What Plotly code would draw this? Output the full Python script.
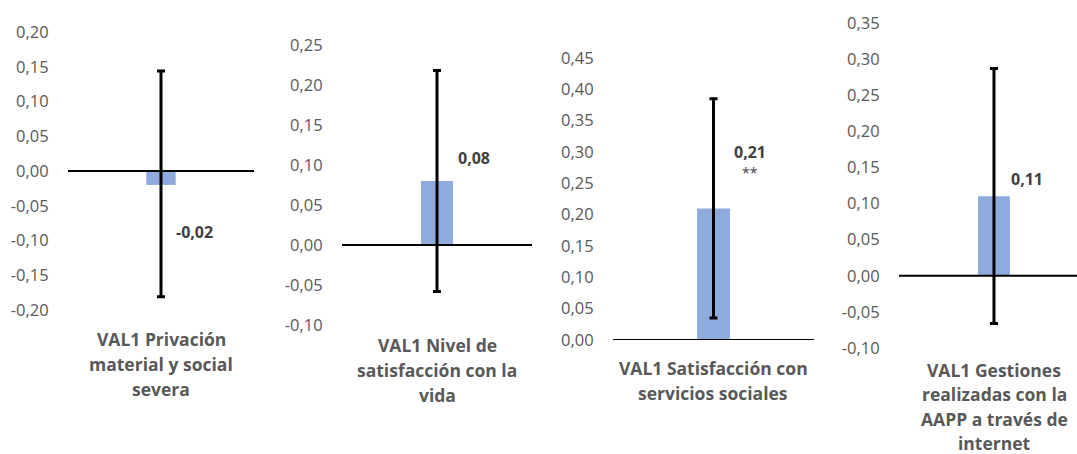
import plotly.graph_objects as go

# ---- data ----
categories = [
    "VAL1 Privación<br>material y social<br>severa",
    "VAL1 Nivel de<br>satisfacción con la<br>vida",
    "VAL1 Satisfacción con<br>servicios sociales",
    "VAL1 Gestiones<br>realizadas con la<br>AAPP a través de<br>internet",
]
values = [-0.02, 0.08, 0.21, 0.11]
err_plus = [0.164, 0.138, 0.175, 0.177]
err_minus = [0.161, 0.138, 0.175, 0.176]
value_labels = ["-0,02", "0,08", "0,21", "0,11"]
significance = ["", "", "**", ""]
ticks_1 = [-0.20, -0.15, -0.10, -0.05, 0.00, 0.05, 0.10, 0.15, 0.20]
ticks_2 = [-0.10, -0.05, 0.00, 0.05, 0.10, 0.15, 0.20, 0.25]
ticks_3 = [0.00, 0.05, 0.10, 0.15, 0.20, 0.25, 0.30, 0.35, 0.40, 0.45]
ticks_4 = [-0.10, -0.05, 0.00, 0.05, 0.10, 0.15, 0.20, 0.25, 0.30, 0.35]
tick_sets = [ticks_1, ticks_2, ticks_3, ticks_4]

# ---- layout helpers ----
W, H = 1077, 454


def px(x):
    return x / W


def py(y):
    return 1 - y / H


def fmt(v):
    s = f"{abs(v):.2f}".replace(".", ",")
    return ("-" if v < -1e-9 else "") + s


# panel geometry (pixels)
panels = [
    dict(xd=(68, 254), yd=(32, 310), xr=(-0.5, 0.5), lab=(194, 232), star=None, cat_y=339, gap=25.0, cx=161, bw=0.158),
    dict(xd=(342, 532), yd=(45, 325), xr=(-0.5, 0.5), lab=(474, 158), star=None, cat_y=345, gap=25.0, cx=437, bw=0.168),
    dict(xd=(613, 814), yd=(58, 340), xr=(-0.5, 0.5), lab=(750, 152), star=(750, 172), cat_y=368, gap=25.0, cx=713, bw=0.164),
    dict(xd=(899, 1077), yd=(23, 348), xr=(-0.5, 0.437), lab=(1027, 179), star=None, cat_y=370, gap=24.3, cx=994, bw=0.168),
]

BAR = "#8FAADC"
GRAY = "#595959"
DARK = "#404040"
TICKFONT = dict(family="Open Sans", size=16.5, color=GRAY)
CATFONT = dict(family="Open Sans", size=17.5, color=GRAY, weight="bold")
VALFONT = dict(family="Open Sans", size=16, color=DARK, weight="bold")

fig = go.Figure()
annotations = []
shapes = []
layout = {}

for i, (cat, v, ep, em, t, p) in enumerate(
    zip(categories, values, err_plus, err_minus, tick_sets, panels)
):
    n = "" if i == 0 else str(i + 1)
    fig.add_trace(
        go.Bar(
            x=[cat],
            y=[v],
            width=p["bw"],
            marker=dict(color=BAR, line=dict(width=0)),
            error_y=dict(
                type="data",
                symmetric=False,
                array=[ep],
                arrayminus=[em],
                color="black",
                thickness=3,
                width=4,
            ),
            xaxis="x" + n,
            yaxis="y" + n,
            showlegend=False,
            hoverinfo="skip",
        )
    )
    layout["xaxis" + n] = dict(
        domain=[px(p["xd"][0]), px(p["xd"][1])],
        anchor="y" + n,
        type="category",
        range=list(p["xr"]),
        showticklabels=False,
        showgrid=False,
        zeroline=False,
        showline=False,
        ticks="",
        automargin=False,
        fixedrange=True,
    )
    layout["yaxis" + n] = dict(
        domain=[py(p["yd"][1]), py(p["yd"][0])],
        anchor="x" + n,
        range=[min(t), max(t)],
        tickvals=t,
        ticktext=[fmt(x) for x in t],
        tickfont=TICKFONT,
        ticks="outside",
        ticklen=15,
        tickcolor="rgba(0,0,0,0)",
        showgrid=False,
        zeroline=False,
        showline=False,
        automargin=False,
        fixedrange=True,
    )
    shapes.append(
        dict(
            type="line",
            xref="x" + n + " domain",
            yref="y" + n,
            x0=0,
            x1=1,
            y0=0,
            y1=0,
            line=dict(color="black", width=2),
            layer="above",
        )
    )
    annotations.append(
        dict(
            xref="paper",
            yref="paper",
            x=px(p["lab"][0]),
            y=py(p["lab"][1]),
            text=value_labels[i],
            showarrow=False,
            xanchor="center",
            yanchor="middle",
            font=VALFONT,
        )
    )
    if significance[i]:
        annotations.append(
            dict(
                xref="paper",
                yref="paper",
                x=px(p["star"][0]),
                y=py(p["star"][1]),
                text=significance[i],
                showarrow=False,
                xanchor="center",
                yanchor="middle",
                font=dict(family="Open Sans", size=14, color=DARK),
            )
        )
    for k, line in enumerate(cat.split("<br>")):
        annotations.append(
            dict(
                xref="paper",
                yref="paper",
                x=px(p["cx"]),
                y=py(p["cat_y"] + k * p["gap"]),
                text=line,
                showarrow=False,
                xanchor="center",
                yanchor="middle",
                font=CATFONT,
            )
        )

fig.update_layout(
    width=W,
    height=H,
    margin=dict(l=0, r=0, t=0, b=0, pad=0, autoexpand=False),
    paper_bgcolor="white",
    plot_bgcolor="white",
    annotations=annotations,
    shapes=shapes,
    **layout,
)

fig.write_html(
    "out.html",
    config={"displayModeBar": False},
    post_script="document.body.style.margin='0';document.body.style.overflow='hidden';",
)
